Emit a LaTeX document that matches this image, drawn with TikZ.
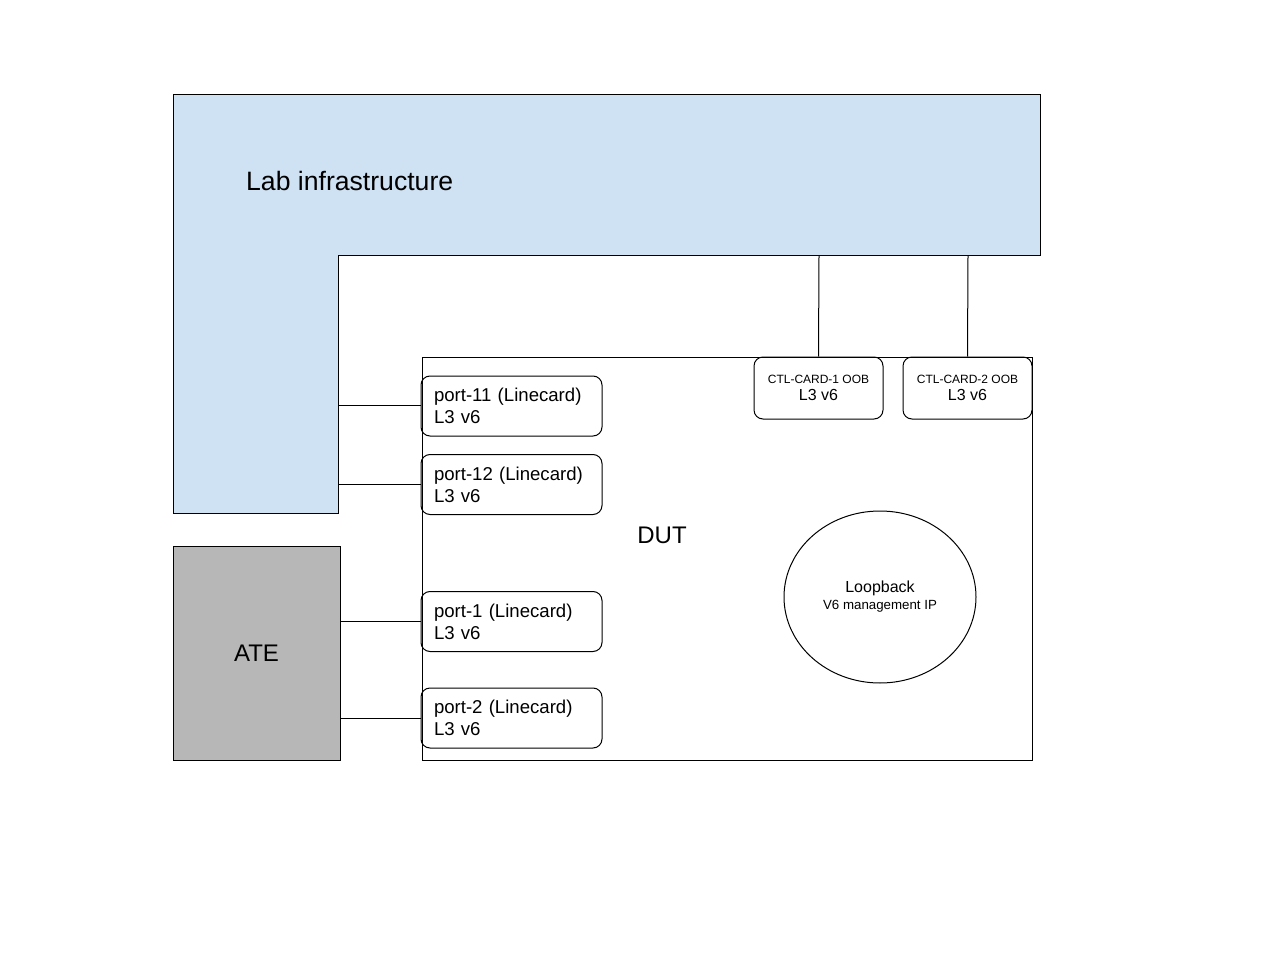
\documentclass[tikz,border=0pt]{standalone}
\usepackage{fontspec}
\setmainfont{Liberation Sans}
\usetikzlibrary{shapes.geometric}
\tikzset{
  box/.style={draw=black, line width=1pt},
  portbox/.style={draw=black, line width=1pt, rounded corners=9pt, minimum width=181pt, minimum height=60pt, text width=155pt, align=left, inner sep=0pt, font=\fontsize{18.6}{22}\selectfont},
  ctlbox/.style={draw=black, line width=1pt, rounded corners=9pt, minimum width=129pt, minimum height=62pt, align=center, inner sep=0pt, font=\fontsize{16}{17}\selectfont},
  link/.style={draw=black, line width=1pt},
}
\begin{document}
\begin{tikzpicture}[x=1pt,y=-1pt]
\useasboundingbox (0,0) rectangle (1280,960);
\fill[white] (0,0) rectangle (1280,960);
% Lab infrastructure L-shape
\draw[box, fill={rgb,255:red,207;green,226;blue,243}] (173,95) -- (1040,95) -- (1040,256) -- (338,256) -- (338,513) -- (173,513) -- cycle;
\node[font=\fontsize{26.6}{30}\selectfont, anchor=west, inner sep=0pt] (labtxt) at (246,181) {Lab infrastructure};
\coordinate (labR) at (338,405);
\coordinate (labR2) at (338,484);
\coordinate (labB1) at (819,256);
\coordinate (labB2) at (968,256);
% ATE
\node[box, fill={rgb,255:red,183;green,183;blue,183}, minimum width=167pt, minimum height=214pt, inner sep=0pt, font=\fontsize{24}{28}\selectfont] (ate) at (256.5,653) {ATE};
% DUT
\node[box, minimum width=610pt, minimum height=403pt, inner sep=0pt] (dut) at (727,558.5) {};
\node[font=\fontsize{24}{28}\selectfont] (duttxt) at (662,535) {DUT};
% ports
\node[portbox] (p11) at (511.5,406) {port-11 (Linecard)\\L3 v6};
\node[portbox] (p12) at (511.5,484.5) {port-12 (Linecard)\\L3 v6};
\node[portbox] (p1) at (511.5,621.5) {port-1 (Linecard)\\L3 v6};
\node[portbox] (p2) at (511.5,718) {port-2 (Linecard)\\L3 v6};
% control cards
\node[ctlbox] (c1) at (818.5,388) {{\fontsize{12}{17}\selectfont CTL-CARD-1 OOB}\\L3 v6};
\node[ctlbox] (c2) at (967.5,388) {{\fontsize{12}{17}\selectfont CTL-CARD-2 OOB}\\L3 v6};
% loopback
\node[draw=black, line width=1pt, ellipse, minimum width=192pt, minimum height=172pt, inner sep=0pt, align=center, font=\fontsize{16}{17}\selectfont] (lo) at (880,597) {Loopback\\{\fontsize{13.3}{17}\selectfont V6 management IP}};
% links
\draw[link] (labR) -- (p11.west |- labR);
\draw[link] (labR2) -- (p12.west |- labR2);
\draw[link] (ate.east |- p1.west) -- (p1.west);
\draw[link] (ate.east |- p2.west) -- (p2.west);
\draw[link] (c1.north) -- (labB1);
\draw[link] (c2.north) -- (labB2);
\end{tikzpicture}
\end{document}
